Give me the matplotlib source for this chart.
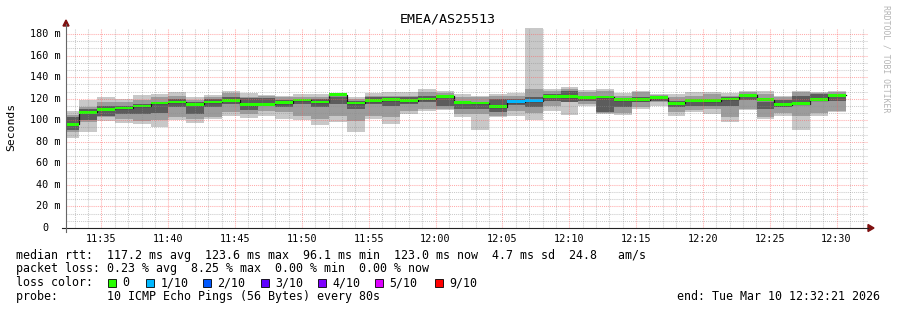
import matplotlib
matplotlib.use("Agg")
import matplotlib.pyplot as plt
from matplotlib.patches import Polygon, Rectangle
import numpy as np

# ---------------- data (ms) ----------------
title = "EMEA/AS25513"
smoke_max = [108.3, 119.1, 121.3, 119.7, 123.4, 124.3, 126.2, 121.3, 123.4, 127.4,
             124.9, 123.7, 122.8, 124.3, 124.3, 124.9, 121.3, 124.9, 125.9, 125.9,
             129.0, 126.8, 124.3, 122.8, 124.3, 124.9, 185.6, 129.0, 131.2, 128.1,
             129.0, 125.2, 127.4, 124.3, 124.3, 125.9, 126.6, 125.2, 127.4, 126.8,
             122.8, 127.4, 125.9, 127.4]
smoke_min = [83.2, 89.4, 99.6, 97.1, 96.5, 93.4, 100.2, 97.4, 101.1, 103.6,
             102.0, 104.2, 101.1, 100.5, 95.6, 98.0, 89.4, 101.1, 96.5, 105.8,
             108.9, 109.5, 103.3, 91.3, 102.7, 104.2, 100.2, 108.9, 104.5, 113.5,
             105.8, 104.8, 110.4, 113.5, 104.0, 107.4, 106.0, 98.7, 109.5, 101.5,
             104.2, 91.1, 104.2, 107.4]
mid_hi = [105.2, 112.0, 116.6, 116.6, 118.8, 121.2, 122.8, 118.8, 121.2, 124.9,
          121.9, 122.2, 121.2, 121.9, 121.9, 122.8, 119.7, 122.8, 122.8, 122.8,
          125.9, 124.9, 121.9, 121.2, 122.8, 122.8, 128.7, 127.4, 129.0, 125.9,
          127.4, 122.8, 125.9, 123.4, 121.2, 122.8, 124.3, 122.8, 125.9, 124.3,
          121.2, 125.9, 125.0, 125.9]
mid_lo = [88.8, 98.0, 102.7, 101.1, 99.6, 100.2, 102.7, 101.1, 102.7, 107.4,
          105.8, 108.9, 107.4, 104.2, 101.1, 104.2, 99.6, 104.2, 102.7, 108.9,
          110.4, 110.4, 105.8, 105.8, 104.2, 108.9, 106.4, 113.5, 118.2, 115.0,
          106.4, 106.4, 112.6, 116.6, 107.4, 109.5, 110.0, 102.7, 110.4, 102.7,
          106.4, 104.2, 106.4, 108.9]
dark_hi = [102.7, 110.4, 113.5, 113.5, 115.0, 116.6, 119.7, 116.6, 119.7, 121.2,
           120.6, 120.6, 119.1, 119.7, 119.7, 121.2, 118.2, 121.2, 121.2, 121.2,
           122.8, 122.8, 116.6, 116.6, 119.7, 119.7, 122.0, 124.3, 127.4, 122.8,
           121.2, 118.2, 121.2, 121.9, 118.2, 119.7, 119.7, 121.2, 123.4, 116.6,
           118.8, 122.8, 124.3, 124.3]
dark_lo = [91.0, 100.2, 104.3, 105.5, 106.0, 106.4, 112.0, 105.8, 112.0, 115.0,
           109.5, 113.5, 112.0, 115.0, 112.6, 115.0, 110.4, 115.0, 113.5, 115.0,
           116.6, 113.5, 110.4, 110.4, 107.4, 114.4, 112.0, 118.2, 116.6, 117.5,
           107.4, 112.0, 116.6, 118.2, 112.0, 113.5, 113.5, 113.5, 118.8, 110.4,
           112.0, 115.0, 118.2, 118.2]
median = [96.1, 107.4, 110.1, 111.4, 113.2, 116.0, 116.9, 115.0, 116.9, 118.5,
          114.4, 115.0, 116.3, 118.8, 116.9, 123.6, 116.0, 118.2, 119.1, 118.2,
          119.7, 122.2, 116.8, 116.0, 112.6, 117.0, 118.3, 122.2, 121.9, 121.2,
          121.6, 119.1, 118.9, 121.0, 115.8, 118.6, 118.3, 119.7, 123.3, 118.9,
          114.6, 115.4, 119.0, 123.0]
loss = [0] * 25 + [1, 1] + [0] * 17
loss_levels = ["0", "1/10", "2/10", "3/10", "4/10", "5/10", "9/10"]
loss_colors = ["#26ff00", "#00b8ff", "#0059ff", "#5e00ff", "#7e00ff", "#dd00ff", "#ff0000"]
tick_labels = ["11:35", "11:40", "11:45", "11:50", "11:55", "12:00",
               "12:05", "12:10", "12:15", "12:20", "12:25", "12:30"]
legend_line1 = "median rtt:  117.2 ms avg  123.6 ms max  96.1 ms min  123.0 ms now  4.7 ms sd  24.8   am/s"
legend_line2 = "packet loss: 0.23 % avg  8.25 % max  0.00 % min  0.00 % now"
probe_line = "probe:       10 ICMP Echo Pings (56 Bytes) every 80s"
end_line = "end: Tue Mar 10 12:32:21 2026"

# time axis (seconds of day)
def hms(s):
    h, m, sec = (int(v) for v in s.split(":"))
    return h * 3600 + m * 60 + sec

t_start = hms("11:32:21")
t_end = hms("12:32:21")
step = 80
first_bar = hms("11:32:01")
starts = first_bar + step * np.arange(len(median))

# ---------------- figure ----------------
W, H = 897, 310
fig = plt.figure(figsize=(W / 100, H / 100), dpi=100)
fig.patch.set_facecolor("white")
L, R, T, B = 66, 868, 28, 228
ax = fig.add_axes([L / W, (H - B) / H, (R - L) / W, (B - T) / H])
ax.set_xlim(t_start, t_end)
ax.set_ylim(0, 185.6)
for s in ax.spines.values():
    s.set_visible(False)
ax.set_xticks([])
ax.set_yticks([])

def px(x, y):
    return (x / W, 1 - y / H)

MONO = "DejaVu Sans Mono"

# smoke
smax = np.array(smoke_max); smin = np.array(smoke_min)
mh = np.array(mid_hi); ml = np.array(mid_lo)
dh = np.array(dark_hi); dl = np.array(dark_lo)
med = np.array(median)
kw = dict(width=step, align="edge", linewidth=0, antialiased=False)
ax.bar(starts, smax - smin, bottom=smin, color="#c8c8c8", zorder=2, **kw)
ax.bar(starts, mh - ml, bottom=ml, color="#9c9c9c", zorder=3, **kw)
ax.bar(starts, dh - dl, bottom=dl, color="#5c5c5c", zorder=4, **kw)

# black step connectors
xs = np.append(starts, starts[-1] + step)
ax.step(xs, np.append(med, med[-1]), where="post", color="#111111", lw=0.9, zorder=5)
# median line in loss colour
ax.bar(starts, np.full(len(med), 2.7), bottom=med - 1.35,
       color=[loss_colors[l] for l in loss], zorder=6, **kw)

# grid (drawn on top like rrdtool)
grid_minor = dict(color="#8c8c8c", alpha=0.45, lw=0.75, ls=(0, (1, 1)), zorder=7)
grid_major = dict(color="#ff5a5a", alpha=0.5, lw=0.75, ls=(0, (1, 1)), zorder=8)
for m in range(hms("11:33:00"), t_end, 60):
    if m % 300 == 0:
        ax.axvline(m, **grid_major)
    else:
        ax.axvline(m, **grid_minor)
for k in range(0, 28):
    v = k * 20 / 3
    if v > 185.6:
        break
    if k == 0:
        continue
    if k % 3 == 0:
        ax.axhline(v, **grid_major)
    else:
        ax.axhline(v, **grid_minor)

# axes lines + arrows
fig.add_artist(plt.Line2D([px(62, 0)[0], px(868, 0)[0]], [px(0, 228)[1]] * 2,
                          color="#222222", lw=0.8, transform=fig.transFigure))
fig.add_artist(plt.Line2D([px(66, 0)[0]] * 2, [px(0, 232)[1], px(0, 24)[1]],
                          color="#666666", lw=0.8, transform=fig.transFigure))
fig.add_artist(Polygon([px(63, 26), px(69, 26), px(66, 20)], closed=True,
                       color="#7f1010", transform=fig.transFigure))
fig.add_artist(Polygon([px(868, 224.5), px(868, 231.5), px(874, 228)], closed=True,
                       color="#7f1010", transform=fig.transFigure))

# tick labels
for i, lab in enumerate(tick_labels):
    t = hms(lab + ":00")
    x = L + (t - t_start) / (t_end - t_start) * (R - L)
    fig.text(*px(x, 238.5), lab, ha="center", va="center", fontsize=7.3, family=MONO)
for v in range(0, 181, 20):
    y = B - v / 185.6 * (B - T)
    if v == 0:
        fig.text(*px(48.5, y), "0", ha="right", va="center", fontsize=7.3, family=MONO)
    else:
        fig.text(*px(60.5, y), f"{v} m", ha="right", va="center", fontsize=7.3, family=MONO)

# title and labels
fig.text(*px(448, 19), title, ha="center", va="center", fontsize=9.6, family=MONO)
fig.text(*px(11, 127), "Seconds", ha="center", va="center", rotation=90,
         fontsize=8.2, family=MONO)
fig.text(*px(886, 59), "RRDTOOL / TOBI OETIKER", ha="center", va="center",
         rotation=270, fontsize=5.9, family=MONO, color="#b4b4b4")

# legend
fig.text(*px(16, 255), legend_line1, ha="left", va="center", fontsize=8.4, family=MONO)
fig.text(*px(16, 268.5), legend_line2, ha="left", va="center", fontsize=8.4, family=MONO)
fig.text(*px(16, 282.5), "loss color:", ha="left", va="center", fontsize=8.4, family=MONO)
sq_x = [108, 146, 203, 261, 318, 375, 435]
for sx, lab, col in zip(sq_x, loss_levels, loss_colors):
    x0, y0 = px(sx, 287)
    fig.add_artist(Rectangle((x0, y0), 8 / W, 8.5 / H, facecolor=col, edgecolor="black",
                             lw=0.6, transform=fig.transFigure))
    fig.text(*px(sx + 14.5, 282.5), lab, ha="left", va="center", fontsize=8.4, family=MONO)
fig.text(*px(16, 296.5), probe_line, ha="left", va="center", fontsize=8.4, family=MONO)
fig.text(*px(880, 296.5), end_line, ha="right", va="center", fontsize=8.4, family=MONO)

fig.savefig("out.png", dpi=100, facecolor="white")
